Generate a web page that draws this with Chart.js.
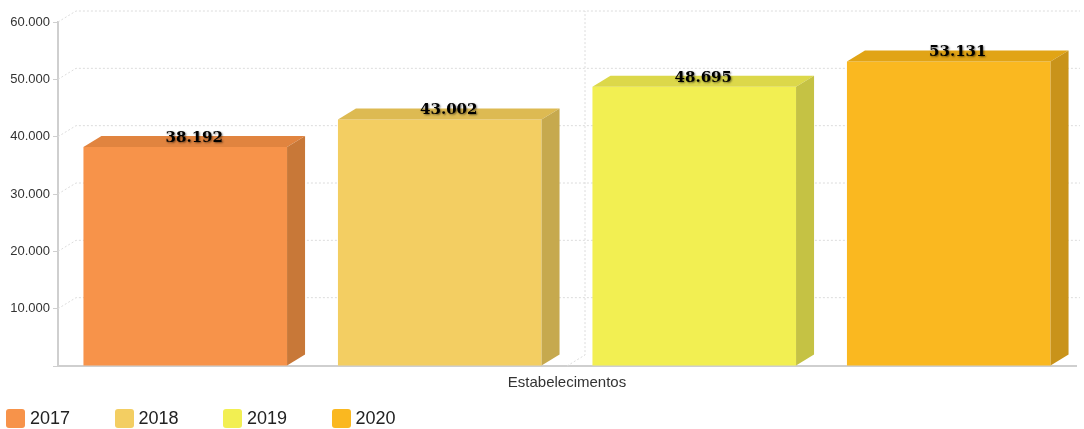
<!DOCTYPE html>
<html>
<head>
<meta charset="utf-8">
<script src="https://cdn.jsdelivr.net/npm/chart.js@4"></script>
<style>
  body { margin: 0; background: #fff; }
  #wrap { position: relative; width: 1084px; height: 429px; }
  #legend { position: absolute; left: 6px; top: 409px; display: flex; font-family: "Liberation Sans", Arial, sans-serif; font-size: 18px; color: #222; }
  #legend .item { width: 108.5px; display: flex; align-items: center; height: 19px; }
  #legend .box { width: 19px; height: 19px; border-radius: 3px; margin-right: 5px; }
</style>
</head>
<body>
<div id="wrap">
  <canvas id="chart" width="1084" height="429"></canvas>
  <div id="legend"></div>
</div>
<script>
const categories = ["Estabelecimentos"]
const years = ["2017", "2018", "2019", "2020"]
const values = [38192, 43002, 48695, 53131]
const yTicks = [0, 10000, 20000, 30000, 40000, 50000, 60000]

const frontColors = ["#F7934A", "#F3CE62", "#F2EF52", "#FAB820"]
const topColors = ["#E1843F", "#DDBA52", "#DCD84A", "#E1A416"]
const sideColors = ["#C87838", "#C6A94E", "#C5C244", "#C9931A"]

// profundidade do efeito 3D
const DX = 18
const DY = -11

function fmt(v){
    return String(v).replace(/\B(?=(\d{3})+(?!\d))/g, ".")
}

const backGrid = {
    id: "backGrid",
    beforeDatasetsDraw(chart){
        const ctx = chart.ctx
        const area = chart.chartArea
        const y = chart.scales.y
        const x = chart.scales.x
        ctx.save()
        ctx.strokeStyle = "#dcdcdc"
        ctx.lineWidth = 1
        ctx.setLineDash([2, 2])
        y.ticks.forEach(t => {
            if(t.value == 0) return
            const py = y.getPixelForValue(t.value)
            ctx.beginPath()
            ctx.moveTo(area.left, py)
            ctx.lineTo(area.left + DX, py + DY)
            ctx.lineTo(area.right + DX - 14, py + DY)
            ctx.stroke()
        })
        const cx = x.getPixelForValue(0)
        ctx.beginPath()
        ctx.moveTo(cx, area.bottom)
        ctx.lineTo(cx + DX, area.bottom + DY)
        ctx.lineTo(cx + DX, area.top + DY)
        ctx.stroke()
        ctx.restore()
    }
}

const bars3d = {
    id: "bars3d",
    afterDatasetsDraw(chart){
        const ctx = chart.ctx
        ctx.save()
        chart.data.datasets.forEach((ds, i) => {
            const meta = chart.getDatasetMeta(i)
            meta.data.forEach(bar => {
                const l = bar.x - bar.width / 2
                const r = bar.x + bar.width / 2
                const t = bar.y
                const b = bar.base
                // topo
                ctx.fillStyle = topColors[i]
                ctx.beginPath()
                ctx.moveTo(l, t)
                ctx.lineTo(l + DX, t + DY)
                ctx.lineTo(r + DX, t + DY)
                ctx.lineTo(r, t)
                ctx.closePath()
                ctx.fill()
                // lateral
                ctx.fillStyle = sideColors[i]
                ctx.beginPath()
                ctx.moveTo(r, t)
                ctx.lineTo(r + DX, t + DY)
                ctx.lineTo(r + DX, b + DY)
                ctx.lineTo(r, b)
                ctx.closePath()
                ctx.fill()
            })
        })
        // rotulos
        ctx.font = "bold 15px 'DejaVu Serif', serif"
        ctx.textAlign = "center"
        ctx.textBaseline = "middle"
        chart.data.datasets.forEach((ds, i) => {
            const meta = chart.getDatasetMeta(i)
            meta.data.forEach((bar, j) => {
                ctx.shadowColor = "rgba(0,0,0,0.5)"
                ctx.shadowBlur = 2
                ctx.shadowOffsetX = 1
                ctx.shadowOffsetY = 1
                ctx.fillStyle = "#000"
                ctx.fillText(fmt(ds.data[j]), bar.x + DX / 2, bar.y + DY + 2)
            })
        })
        ctx.restore()
    }
}

const datasets = years.map((yr, i) => ({
    label: yr,
    data: [values[i]],
    backgroundColor: frontColors[i],
    borderWidth: 0,
    barPercentage: 0.8,
    categoryPercentage: 1.0
}))

new Chart(document.getElementById("chart"), {
    type: "bar",
    data: { labels: categories, datasets: datasets },
    plugins: [backGrid, bars3d],
    options: {
        responsive: false,
        animation: false,
        devicePixelRatio: 1,
        layout: { padding: { top: 22, right: 8, bottom: 0, left: 0 } },
        plugins: {
            legend: { display: false },
            tooltip: { enabled: false }
        },
        scales: {
            x: {
                grid: { display: false },
                border: { color: "#cfcfcf", width: 2 },
                ticks: { color: "#333", font: { family: "Liberation Sans", size: 15 }, padding: 0 },
                afterFit: s => { s.height = 63 }
            },
            y: {
                min: 0,
                max: 60000,
                afterBuildTicks: s => { s.ticks = yTicks.map(v => ({ value: v })) },
                grid: { drawOnChartArea: false, tickLength: 5, color: "#cfcfcf" },
                border: { color: "#cfcfcf", width: 2 },
                ticks: {
                    color: "#333",
                    font: { family: "Liberation Sans", size: 13 },
                    padding: 3,
                    callback: v => v == 0 ? "" : fmt(v)
                },
                afterFit: s => { s.width = 58 }
            }
        }
    }
})

const legend = document.getElementById("legend")
years.forEach((yr, i) => {
    const item = document.createElement("div")
    item.className = "item"
    item.innerHTML = `<span class="box" style="background:${frontColors[i]}"></span><span>${yr}</span>`
    legend.appendChild(item)
})
</script>
</body>
</html>
